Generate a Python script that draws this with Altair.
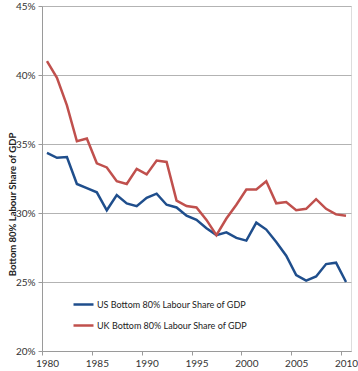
import altair as alt
import pandas as pd

years = list(range(1980, 2011))
us = [34.35, 34.0, 34.05, 32.1, 31.8, 31.5, 30.2, 31.3, 30.7, 30.5,
      31.1, 31.4, 30.6, 30.4, 29.8, 29.5, 28.9, 28.4, 28.6, 28.2,
      28.0, 29.3, 28.8, 27.9, 26.9, 25.5, 25.1, 25.4, 26.3, 26.4, 25.0]
uk = [41.0, 39.8, 37.8, 35.2, 35.4, 33.6, 33.3, 32.3, 32.1, 33.2,
      32.8, 33.8, 33.7, 30.9, 30.5, 30.4, 29.5, 28.4, 29.6, 30.6,
      31.7, 31.7, 32.3, 30.7, 30.8, 30.2, 30.3, 31.0, 30.3, 29.9, 29.8]
series_names = ["US Bottom 80% Labour Share of GDP", "UK Bottom 80% Labour Share of GDP"]
colors = ["#1F4E8C", "#C0504D"]
x_labels = [1980, 1985, 1990, 1995, 2000, 2005, 2010]
y_ticks = [20, 25, 30, 35, 40, 45]

rows = []
for name, vals in zip(series_names, [us, uk]):
    for yr, v in zip(years, vals):
        rows.append({"year": yr, "value": v, "series": name})
df = pd.DataFrame(rows)

FONT = "Lato"

chart = alt.Chart(df).mark_line(strokeWidth=2.5).encode(
    x=alt.X("year:Q",
            scale=alt.Scale(domain=[1979.5, 2010.5], nice=False, zero=False),
            axis=alt.Axis(values=x_labels, title=None, grid=False, format="d",
                          tickOffset=-5, labelOffset=5, tickSize=4,
                          tickColor="#9a9a9a", domainColor="#9a9a9a",
                          labelFont=FONT, labelFontSize=10, labelColor="#333333",
                          labelPadding=3, labelFlush=False)),
    y=alt.Y("value:Q",
            scale=alt.Scale(domain=[20, 45], nice=False, zero=False),
            axis=alt.Axis(values=y_ticks, labelExpr="datum.value + '%'",
                          title="Bottom 80%  Labour Share of GDP",
                          titleFont=FONT, titleFontSize=9.5, titleFontWeight="bold",
                          titleColor="#222222", titleX=-30, titleY=198,
                          titleBaseline="middle", titleAlign="center", titleAngle=-90,
                          grid=True, gridColor="#b3b3b3", gridWidth=1,
                          tickSize=4, tickColor="#9a9a9a", domainColor="#9a9a9a",
                          labelFont=FONT, labelFontSize=10, labelColor="#333333",
                          labelPadding=3)),
    color=alt.Color("series:N",
                    scale=alt.Scale(domain=series_names, range=colors),
                    sort=series_names,
                    legend=alt.Legend(title=None, orient="none", legendX=30, legendY=287,
                                      symbolType="stroke", symbolSize=400,
                                      symbolStrokeWidth=2.5, rowPadding=4,
                                      labelOffset=2,
                                      labelFont=FONT, labelFontSize=9,
                                      labelColor="#222222", labelLimit=300)),
).properties(
    width=309, height=345,
    autosize=alt.AutoSizeParams(type="none"),
    padding={"left": 42, "top": 6, "right": 7, "bottom": 20},
).configure_view(stroke=None).configure(background="white")

chart.save("out.html", embed_options={"renderer": "svg", "actions": False})
